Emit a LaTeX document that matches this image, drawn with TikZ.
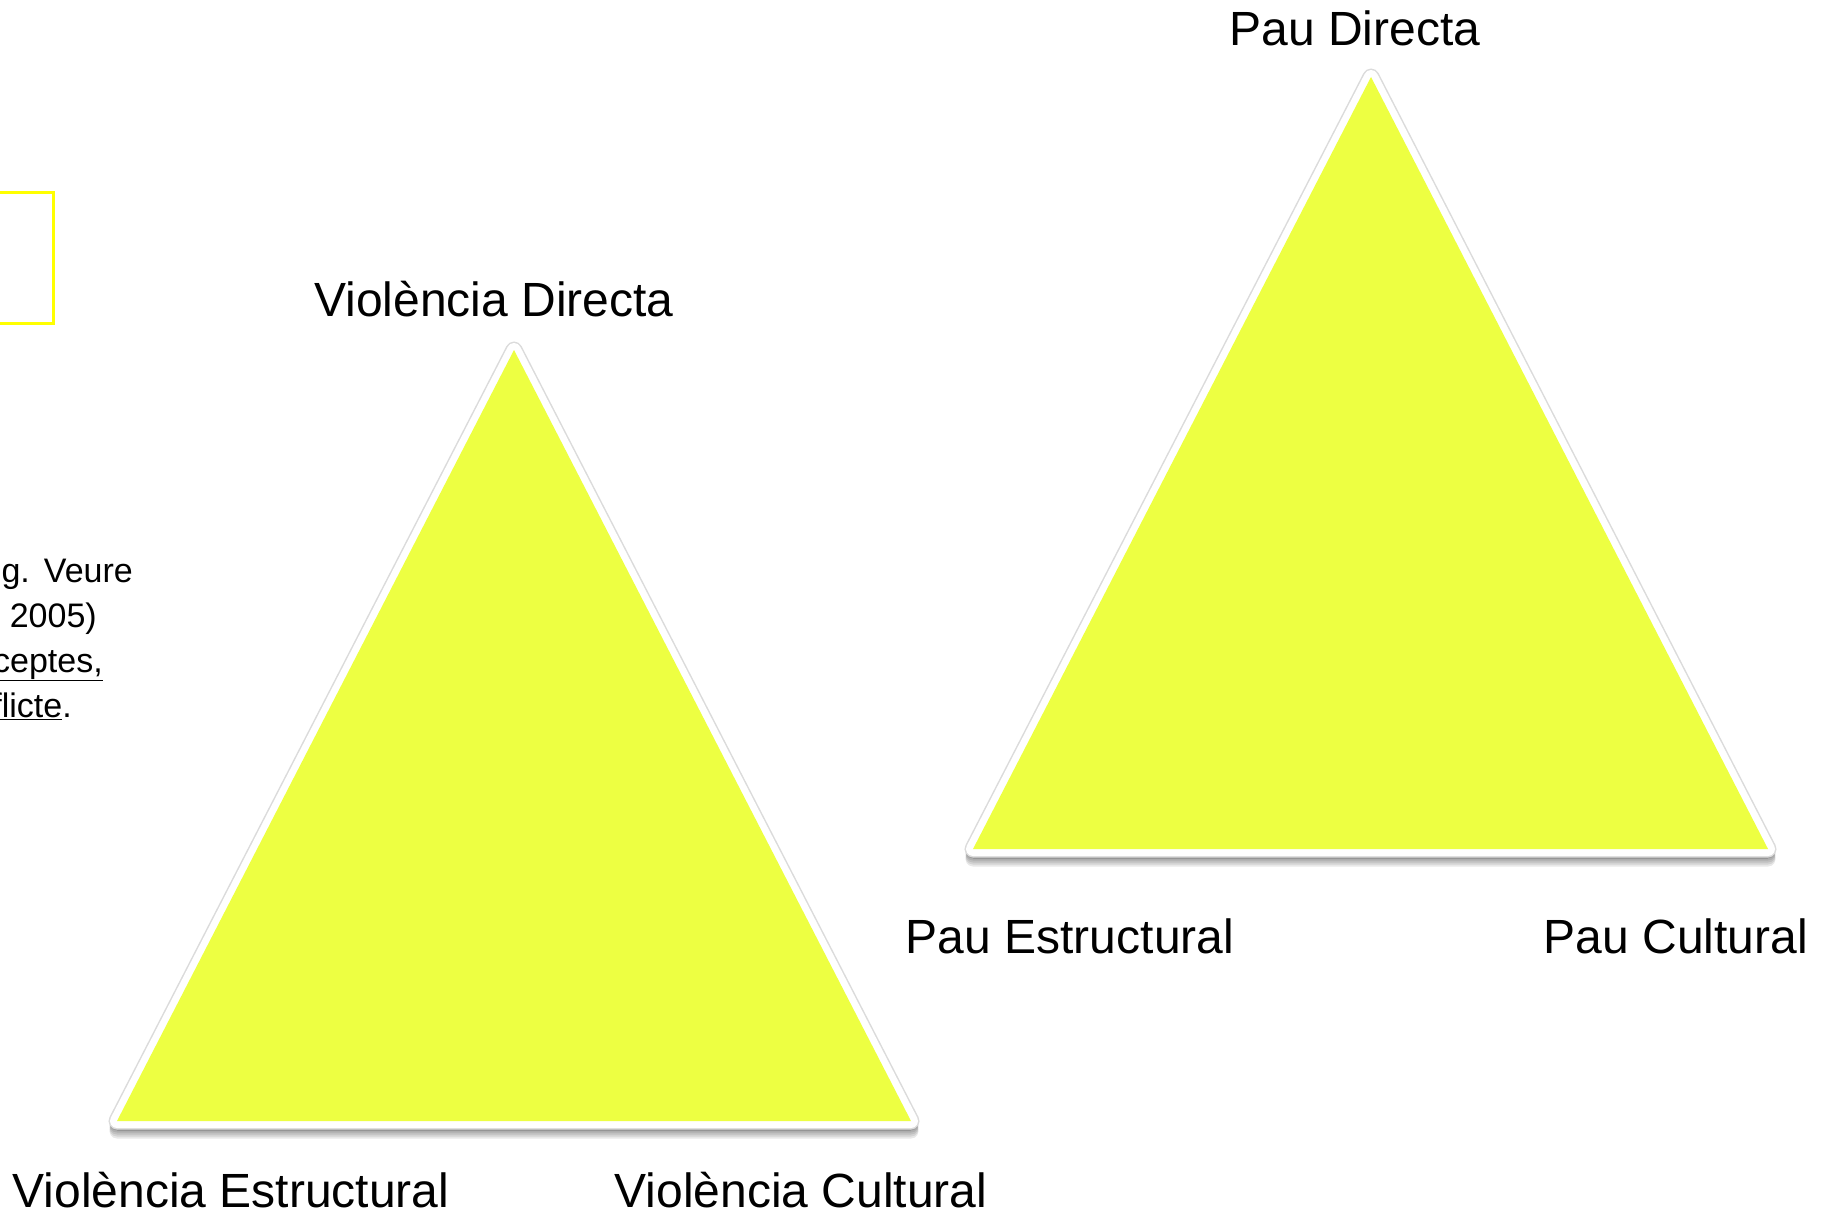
\documentclass[tikz,border=0pt]{standalone}
\usepackage{fontspec}
\setmainfont{Liberation Sans}
\definecolor{triyellow}{RGB}{237,255,66}
\definecolor{boxyellow}{RGB}{255,255,0}
\begin{document}
\begin{tikzpicture}[x=1pt,y=-1pt,
  lbl/.style={font=\fontsize{48}{56}\selectfont, anchor=base, inner sep=0pt, text=black},
  note/.style={font=\fontsize{34}{40}\selectfont, anchor=base east, inner sep=0pt, text=black},
  trishadow/.style={draw=black, fill=black, line width=15pt, line join=round, opacity=0.09},
  trihalo/.style={draw=black!14, line width=17pt, line join=round},
  triborder/.style={draw=white, fill=white, line width=14pt, line join=round},
  trifill/.style={fill=triyellow}]
\useasboundingbox (0,0) rectangle (1822,1214);
\clip (0,0) rectangle (1822,1214);
% coordinates of the triangles
\coordinate (va) at (514,350);
\coordinate (vl) at (117,1121);
\coordinate (vr) at (911,1121);
\coordinate (pa) at (1371,77);
\coordinate (pl) at (973,849);
\coordinate (pr) at (1768,849);
% shadows and borders
\foreach \a/\b/\c in {va/vl/vr, pa/pl/pr}{
  \foreach \s in {2,4,6,8,10}{
    \draw[trishadow] ([yshift=-\s pt]\a) -- ([yshift=-\s pt]\b) -- ([yshift=-\s pt]\c) -- cycle;
  }
  \draw[trihalo] (\a) -- (\b) -- (\c) -- cycle;
  \draw[triborder] (\a) -- (\b) -- (\c) -- cycle;
  \fill[trifill] (\a) -- (\b) -- (\c) -- cycle;
}
% labels
\node[lbl] (vd) at (494,317) {Violència Directa};
\node[lbl] (ve) at (231,1207) {Violència Estructural};
\node[lbl] (vc) at (801,1207) {Violència Cultural};
\node[lbl] (pd) at (1355,46) {Pau Directa};
\node[lbl] (pe) at (1070,953) {Pau Estructural};
\node[lbl] (pc) at (1676,953) {Pau Cultural};
% yellow box cut by the left edge
\draw[boxyellow, line width=3pt] (-30,193) rectangle (53,324);
% clipped note text
\node[note] (n1) at (133,582) {g.\hspace{14pt}Veure};
\node[note] (n2) at (97,627) {2005)};
\node[note] (n3) at (103,672) {\underline{conceptes,}};
\node[note] (n4) at (72,717) {\underline{conflicte}.};
\end{tikzpicture}
\end{document}
